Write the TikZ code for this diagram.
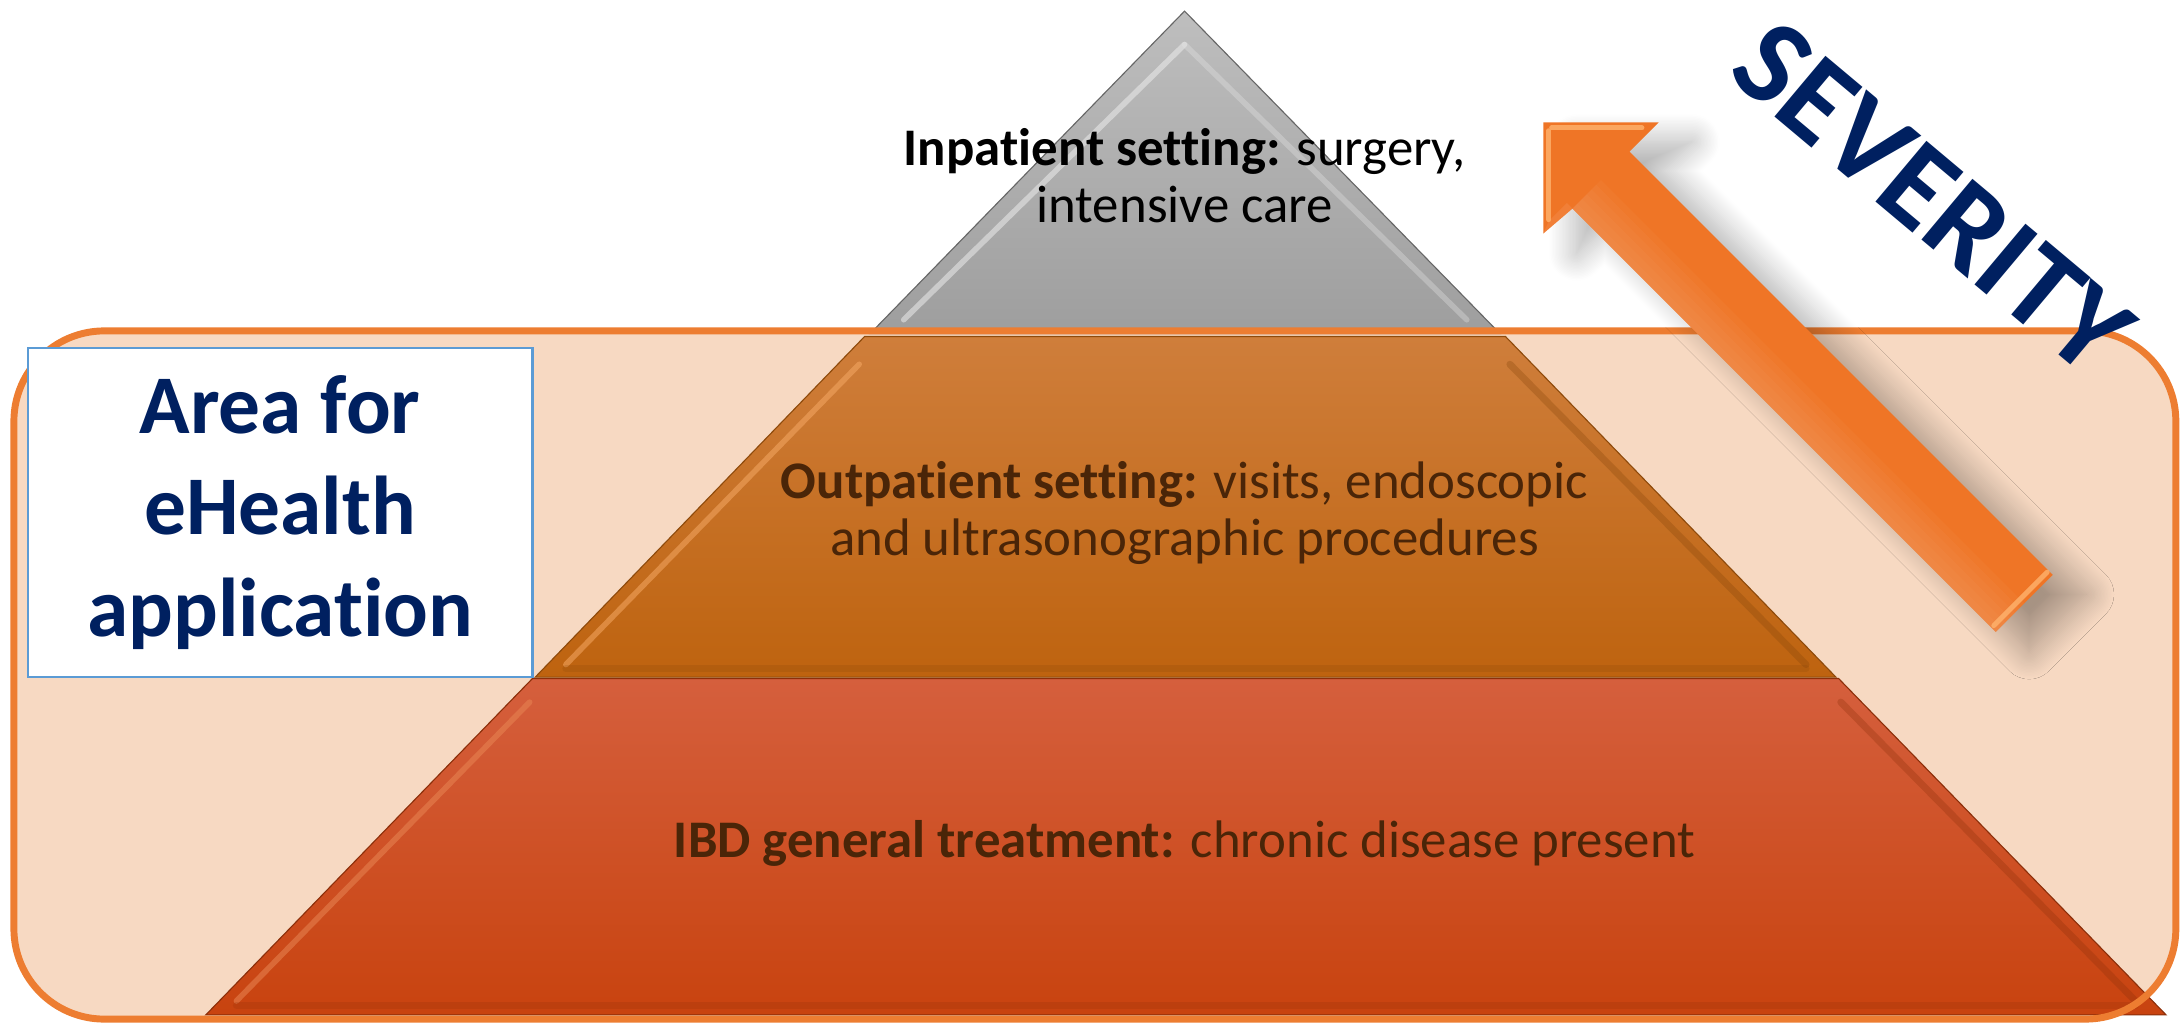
\documentclass[tikz,border=0pt]{standalone}
\usepackage{fontspec}
\setmainfont{Carlito}[Ligatures=NoCommon]
\usetikzlibrary{shadows.blur}
\definecolor{peach}{HTML}{F7D9C2}
\definecolor{boxorange}{HTML}{ED7D31}
\definecolor{navy}{HTML}{002060}
\definecolor{txtbrown}{HTML}{4A2508}
\definecolor{arroworange}{HTML}{EF7526}
\definecolor{arrowlight}{HTML}{F7A06A}
\definecolor{arrowbevel}{HTML}{FFB36E}
\definecolor{skyblue}{HTML}{5B9BD5}
\definecolor{grayA}{HTML}{BEBEBE}
\definecolor{grayB}{HTML}{9E9E9E}
\definecolor{midA}{HTML}{CF7E3B}
\definecolor{midB}{HTML}{BE630F}
\definecolor{botA}{HTML}{D55F3D}
\definecolor{botB}{HTML}{C8430F}
\tikzset{
  tiertext/.style={font=\fontsize{38}{41}\selectfont, align=center, inner sep=0pt},
  bevellight/.style={line width=4pt, line cap=round, opacity=0.55},
  beveldark/.style={line width=5pt, line cap=round, opacity=0.3},
}
\begin{document}
\begin{tikzpicture}[x=1pt,y=-1pt]
\useasboundingbox (0,0) rectangle (1568,736);

% area (fill)
\path[fill=peach, rounded corners=65pt] (10,238) rectangle (1565,733);

% ---- pyramid ----
\coordinate (apex) at (852,8);
% tier 1 (gray)
\path[top color=grayA, bottom color=grayB, draw=gray!80!black, line width=0.8pt]
  (apex) -- (1078.9,240) -- (625.8,240) -- cycle;
\draw[bevellight, color=white!85!gray] (852,32) -- (650,230);
\draw[bevellight, color=white!80!gray, opacity=0.35] (852,32) -- (1055,230);
% tier 2 (orange)
\path[top color=midA, bottom color=midB, draw=midB!75!black, line width=0.8pt]
  (621.9,242) -- (1082.8,242) -- (1320.5,487) -- (385,487) -- cycle;
\draw[bevellight, color=arrowbevel!80!midA] (618,262) -- (407,478);
\draw[beveldark, color=midB!70!black] (1086,262) -- (1299,478);
\draw[beveldark, color=midB!70!black, opacity=0.2] (407,481) -- (1299,481);
% tier 3 (red-orange)
\path[top color=botA, bottom color=botB, draw=botB!70!black, line width=0.8pt]
  (383,488) -- (1322.4,488) -- (1558,730) -- (148,730) -- cycle;
\draw[bevellight, color=botA!55!arrowbevel] (381,505) -- (170,720);
\draw[beveldark, color=botB!70!black] (1324,505) -- (1536,720);
\draw[beveldark, color=botB!70!black, opacity=0.2] (170,723) -- (1536,723);

% area (outline)
\draw[boxorange, line width=5pt, rounded corners=65pt] (10,238) rectangle (1565,733);

% ---- severity arrow ----
\coordinate (A) at (1110,88);
\coordinate (B) at (1193,88);
\coordinate (C) at (1110,168);
\coordinate (D) at (1172,109);
\coordinate (E) at (1131,150);
\coordinate (F) at (1476.5,413.5);
\coordinate (G) at (1435.5,454.5);
\path[fill=arroworange,
  blur shadow={shadow xshift=24pt, shadow yshift=-14pt, shadow blur radius=20pt,
               shadow blur steps=20, shadow opacity=32}]
  (A) -- (B) -- (D) -- (F) -- (G) -- (E) -- (C) -- cycle;
% light gradient toward lower-left edge
\foreach \k in {1,...,6}{
  \fill[arrowlight, opacity=0.1]
    (E) -- ([shift={(\k*3.417,-\k*3.417)}]E) -- ([shift={(\k*3.417,-\k*3.417)}]G) -- (G) -- cycle;
}
\fill[arrowlight, opacity=0.25] (C) -- (E) -- (1127,146) -- (1114,159) -- cycle;
% bevels
\draw[bevellight, color=arrowbevel, line width=3.5pt, opacity=0.8] (1116,92) -- (1181,92);
\draw[bevellight, color=arrowbevel, line width=3.5pt, opacity=0.8] (1114,94) -- (1114,158);
\draw[bevellight, color=arrowbevel, line width=3.5pt, opacity=0.8] (1472.5,411.5) -- (1434,450);

% ---- texts ----
\node[tiertext, text=black] (inp) at (852,126)
  {\textbf{Inpatient setting:} surgery,\\intensive care};
\node[tiertext, text=txtbrown] (outp) at (852,369)
  {\textbf{Outpatient setting:} visits, endoscopic\\and ultrasonographic procedures};
\node[tiertext, text=txtbrown] (ibd) at (852,607)
  {\textbf{IBD general treatment:} chronic disease present};

\node[draw=skyblue, line width=1.5pt, fill=white, minimum width=363pt, minimum height=237pt,
  text=navy, align=center, font=\fontsize{60}{73}\selectfont\bfseries] (area) at (201.5,368.5)
  {Area for\\eHealth\\application};

\node[rotate=-40, text=navy, font=\fontsize{88}{100}\selectfont\bfseries] (sev) at (1390,142) {SEVERITY};
\end{tikzpicture}
\end{document}
